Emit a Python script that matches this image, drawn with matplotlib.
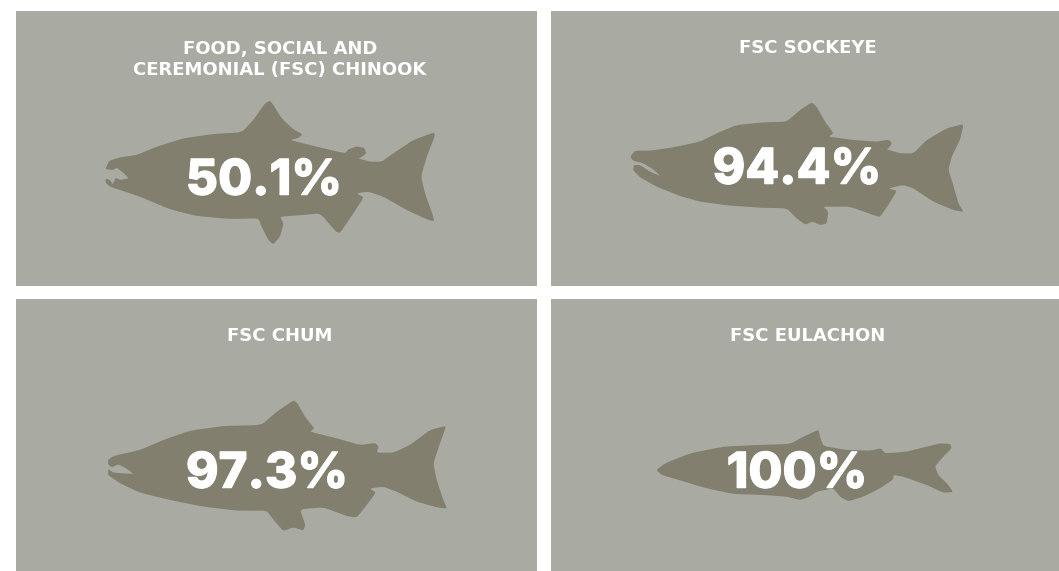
import matplotlib
matplotlib.use("Agg")
import matplotlib.pyplot as plt
import matplotlib.patheffects as pe
from matplotlib.patches import PathPatch, Rectangle
from matplotlib.path import Path

bg = "#a9aaa2"
fish_col = "#827f6e"

titles = ["FOOD, SOCIAL AND\nCEREMONIAL (FSC) CHINOOK", "FSC SOCKEYE", "FSC CHUM", "FSC EULACHON"]
values = ["50.1%", "94.4%", "97.3%", "100%"]

# panels, in image pixels: x, y, w, h
panels = [(16, 11, 521, 275), (551, 11, 508, 275), (16, 299, 521, 272), (551, 299, 508, 272)]
title_y = [59.5, 48, 336, 336]
title_x = [280, 808, 280, 808]
value_pos = [(264, 195), (797, 184), (267, 488), (797, 488)]

chinook = [(48,232),(58,212),(90,202),(140,195),(200,170),(280,145),(370,132),(455,127),(490,90),(525,40),(540,32),(550,45),(575,85),(610,118),(638,133),(625,144),(600,150),(680,170),(765,190),(775,178),(800,169),(823,174),(829,190),(815,201),(805,205),(840,215),(875,215),(910,190),(970,150),(1033,127),(1034,140),(1010,200),(993,260),(1005,310),(1030,380),(1032,393),(1015,390),(950,360),(880,320),(835,305),(800,310),(821,322),(790,370),(750,429),(738,425),(690,370),(640,375),(570,380),(581,400),(570,440),(550,463),(535,450),(515,410),(505,385),(420,387),(320,378),(240,358),(150,320),(90,300),(60,290),(47,278),(47,266),(60,270),(68,283),(78,263),(90,270),(116,265),(100,248),(80,233),(70,240),(49,238)]
sockeye = [(31,200),(45,182),(90,182),(160,172),(240,155),(290,130),(350,105),(430,97),(500,95),(540,60),(576,37),(590,50),(615,95),(641,130),(625,140),(700,150),(770,155),(806,149),(816,160),(805,175),(800,178),(840,190),(880,190),(920,150),(980,115),(1031,102),(1020,150),(995,200),(985,240),(1000,285),(1015,340),(1031,366),(1000,360),(940,335),(880,295),(850,285),(805,295),(831,302),(805,345),(780,381),(760,375),(690,350),(610,350),(625,365),(620,401),(600,405),(578,395),(555,404),(530,385),(500,355),(420,353),(330,347),(240,335),(180,318),(110,290),(60,262),(39,240),(42,225),(60,225),(90,245),(121,258),(100,238),(70,220),(39,212)]
chum = [(54,210),(70,198),(150,180),(220,150),(300,122),(400,108),(515,105),(560,65),(611,31),(622,40),(645,80),(673,115),(660,125),(740,145),(810,165),(856,159),(866,170),(860,188),(910,188),(960,165),(1020,120),(1069,107),(1050,160),(1030,220),(1040,270),(1060,330),(1071,356),(1040,352),(980,335),(920,305),(880,290),(840,295),(858,308),(830,345),(800,383),(770,378),(700,352),(630,358),(646,405),(640,421),(610,412),(580,423),(555,395),(530,362),(440,362),(340,350),(240,330),(150,308),(90,280),(54,255),(55,237),(70,248),(100,250),(131,252),(105,233),(85,223),(65,232),(54,222)]
eulachon = [(49,150),(75,130),(150,100),(250,80),(350,75),(450,72),(490,50),(536,29),(540,50),(550,78),(620,90),(690,92),(723,85),(735,100),(800,95),(860,80),(900,70),(931,72),(935,85),(905,115),(885,140),(895,165),(925,195),(939,216),(910,218),(860,195),(790,170),(760,165),(760,178),(720,205),(670,230),(625,244),(600,230),(580,205),(530,215),(505,232),(480,240),(440,230),(370,225),(280,222),(200,205),(110,178),(65,165)]

outlines = [chinook, sockeye, chum, eulachon]
offsets = [(90, 90), (620, 90), (90, 390), (640, 420)]


def smooth_path(pts):
    # straight runs with a small curve round each traced point
    n = len(pts)
    verts = []
    codes = []
    for k in range(n):
        px, py = pts[k - 1]
        cx, cy = pts[k]
        nx, ny = pts[(k + 1) % n]
        start = (cx + (px - cx) * 0.2, cy + (py - cy) * 0.2)
        end = (cx + (nx - cx) * 0.2, cy + (ny - cy) * 0.2)
        verts.append(start)
        codes.append(Path.MOVETO if k == 0 else Path.LINETO)
        verts += [(cx, cy), end]
        codes += [Path.CURVE3, Path.CURVE3]
    verts.append(verts[0])
    codes.append(Path.CLOSEPOLY)
    return Path(verts, codes)


dpi = 100
fig = plt.figure(figsize=(10.59, 5.71), dpi=dpi, facecolor="white")
ax = fig.add_axes([0, 0, 1, 1])
ax.set_xlim(0, 1059)
ax.set_ylim(571, 0)
ax.axis("off")

for i in range(4):
    x, y, w, h = panels[i]
    ax.add_patch(Rectangle((x, y), w, h, fc=bg, ec="none"))
    ox, oy = offsets[i]
    pts = [(ox + a / 3, oy + b / 3) for a, b in outlines[i]]
    ax.add_patch(PathPatch(smooth_path(pts), fc=fish_col, ec="none"))
    ax.text(title_x[i], title_y[i], titles[i], color="white", fontsize=13, fontweight="bold",
            family="DejaVu Sans", ha="center", va="center", linespacing=1.25)
    ax.text(value_pos[i][0], value_pos[i][1] - 0.3, values[i], color="white", fontsize=35.5, fontweight="heavy",
            family="Inter", ha="center", va="baseline",
            path_effects=[pe.withStroke(linewidth=0.8, foreground="white")])

fig.savefig("out.png", dpi=dpi)
